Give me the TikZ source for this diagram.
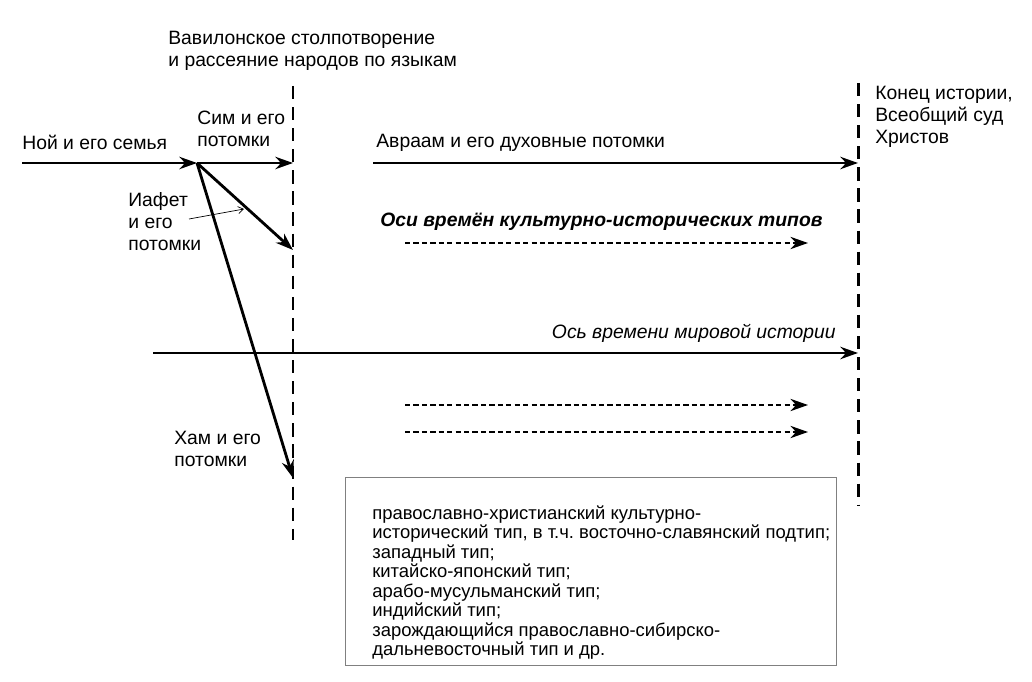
\documentclass[tikz,border=0pt]{standalone}
\usepackage{fontspec}
\setmainfont{Liberation Sans}
\usetikzlibrary{arrows.meta,positioning}
\frenchspacing

\begin{document}
\begin{tikzpicture}[x=0.02cm,y=-0.02cm,>={Stealth[length=10pt,width=7pt]},
  axis/.style={->,line width=1.6pt},
  typeaxis/.style={->,line width=1.1pt,dash pattern=on 3pt off 1.8pt},
  epoch/.style={line width=1.7pt,dash pattern=on 7.5pt off 4.5pt},
  lbl/.style={anchor=west,inner sep=0pt,align=left,font=\fontsize{11}{12.5}\selectfont}]
  \useasboundingbox (0,0) rectangle (1032,682);
  % borders of the epochs
  \coordinate (babelT) at (293,86);
  \coordinate (babelB) at (293,540);
  \coordinate (endT)   at (858,83);
  \coordinate (endB)   at (858,505);
  \draw[epoch] (babelT) -- (babelB);
  \draw[epoch] (endT) -- (endB);
  % Noah and his sons
  \coordinate (noah0) at (22,163);
  \coordinate (noah1) at (197,163);
  \coordinate (shem1) at (293,163);
  \coordinate (japh1) at (293,250);
  \coordinate (ham1)  at (293,478);
  \draw[axis] (noah0) -- (noah1);
  \draw[axis] (noah1) -- (shem1);
  \draw[axis] (noah1) -- (japh1);
  \draw[axis] (noah1) -- (ham1);
  \coordinate (abr0) at (373,163);
  \coordinate (abr1) at (858,163);
  \draw[axis] (abr0) -- (abr1);
  \coordinate (world0) at (153,353);
  \coordinate (world1) at (858,353);
  \draw[axis] (world0) -- (world1);
  % time axes of the cultural types
  \foreach \y [count=\i] in {243,405,432} {
    \coordinate (type\i a) at (405,\y);
    \coordinate (type\i b) at (808,\y);
    \draw[typeaxis] (type\i a) -- (type\i b);
  }
  \node[lbl] (babel)   at (168,51)  {Вавилонское столпотворение\\и рассеяние народов по языкам};
  \node[lbl] (noah)    at (22,142)  {Ной и его семья};
  \node[lbl] (shem)    at (197,129) {Сим и его\\потомки};
  \node[lbl] (japheth) at (128,222) {Иафет\\и его\\потомки};
  \node[lbl] (ham)     at (174,449) {Хам и его\\потомки};
  \node[lbl] (abraham) at (376,143) {Авраам и его духовные потомки};
  \node[lbl,font=\fontsize{11}{12.5}\selectfont\bfseries\itshape] (types) at (380,222) {Оси времён культурно-исторических типов};
  \node[lbl,anchor=east,font=\fontsize{11}{12.5}\selectfont\itshape] (world) at (836,333) {Ось времени мировой истории};
  \node[lbl] (end)     at (875,117) {Конец истории,\\Всеобщий суд\\Христов};
  \coordinate (japhP0) at (189,219);
  \coordinate (japhP1) at (244,209);
  \draw[->,line width=0.4pt,>={Straight Barb[length=3pt,width=4pt]}] (japhP0) -- (japhP1);
  % list of the types
  \node[draw=gray,line width=0.8pt,anchor=north west,minimum width=9.82cm,minimum height=3.76cm] (listbox) at (345,477) {};
  \node[lbl,anchor=north west,font=\fontsize{10.5}{11.1}\selectfont] (list) at ([shift={(27,28)}]listbox.north west)
    {православно-христианский культурно-\\исторический тип, в т.ч. восточно-славянский подтип;\\западный тип;\\китайско-японский тип;\\арабо-мусульманский тип;\\индийский тип;\\зарождающийся православно-сибирско-\\дальневосточный тип и др.};
\end{tikzpicture}
\end{document}
